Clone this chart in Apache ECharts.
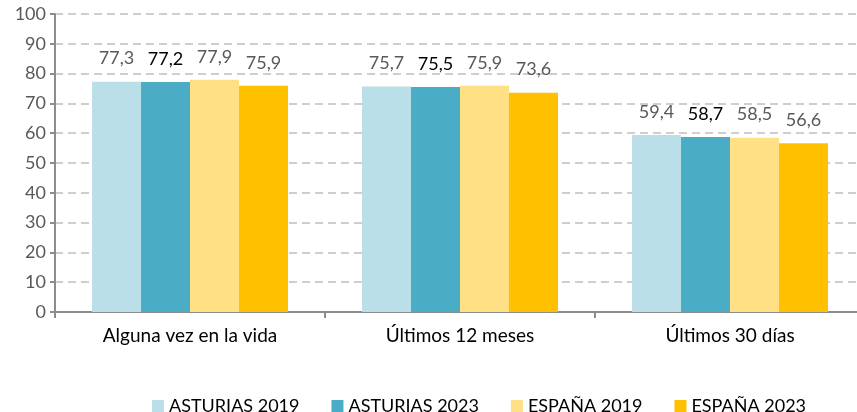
<!DOCTYPE html>
<html>
<head>
<meta charset="utf-8">
<script src="https://cdn.jsdelivr.net/npm/echarts@6/dist/echarts.min.js"></script>
<style>
html, body { margin: 0; padding: 0; background: #fff; overflow: hidden; }
#chart { width: 865px; height: 412px; }
</style>
</head>
<body>
<div id="chart"></div>
<script>
const categories = ['Alguna vez en la vida', 'Últimos 12 meses', 'Últimos 30 días'];
const seriesNames = ['ASTURIAS 2019', 'ASTURIAS 2023', 'ESPAÑA 2019', 'ESPAÑA 2023'];
const asturias2019 = [77.3, 75.7, 59.4];
const asturias2023 = [77.2, 75.5, 58.7];
const espana2019 = [77.9, 75.9, 58.5];
const espana2023 = [75.9, 73.6, 56.6];
const colors = ['#BBDFE8', '#4BACC6', '#FFE085', '#FFC000'];
const labelColors = ['#595959', '#000000', '#595959', '#595959'];

var chartDom = document.getElementById('chart');
var myChart = echarts.init(chartDom);
var font = 'Lato, "Open Sans", sans-serif';

var makeSeries = (name, data, i) => ({
    name: name,
    type: 'bar',
    data: data,
    barWidth: 49,
    barGap: '0%',
    itemStyle: { color: colors[i] },
    label: {
        show: true,
        position: 'top',
        distance: 14,
        fontFamily: font,
        fontSize: 18,
        color: labelColors[i],
        formatter: (p) => p.value.toFixed(1).replace('.', ',')
    }
});

var option = {
    animation: false,
    color: colors,
    grid: { left: 55, right: 0, top: 14, bottom: 100 },
    legend: {
        top: 392,
        left: 147,
        itemWidth: 12,
        itemHeight: 12,
        itemGap: 32,
        icon: 'rect',
        textStyle: { fontFamily: font, fontSize: 18, color: '#000' },
        data: seriesNames
    },
    xAxis: {
        type: 'category',
        data: categories,
        axisLine: { lineStyle: { color: '#8C8C8C', width: 2 } },
        axisTick: { show: true, length: 6, lineStyle: { color: '#8C8C8C', width: 2 } },
        axisLabel: { fontFamily: font, fontSize: 19, color: '#000', margin: 14 }
    },
    yAxis: {
        type: 'value',
        min: 0,
        max: 100,
        interval: 10,
        axisLine: { show: true, lineStyle: { color: '#8C8C8C', width: 2 } },
        axisTick: { show: true, length: 5, lineStyle: { color: '#8C8C8C', width: 2 } },
        axisLabel: { fontFamily: font, fontSize: 18, color: '#595959', margin: 9 },
        splitLine: { lineStyle: { color: '#BFBFBF', type: [8, 5], width: 1.5 } }
    },
    series: [
        makeSeries(seriesNames[0], asturias2019, 0),
        makeSeries(seriesNames[1], asturias2023, 1),
        makeSeries(seriesNames[2], espana2019, 2),
        makeSeries(seriesNames[3], espana2023, 3)
    ]
};

option && myChart.setOption(option);
</script>
</body>
</html>
